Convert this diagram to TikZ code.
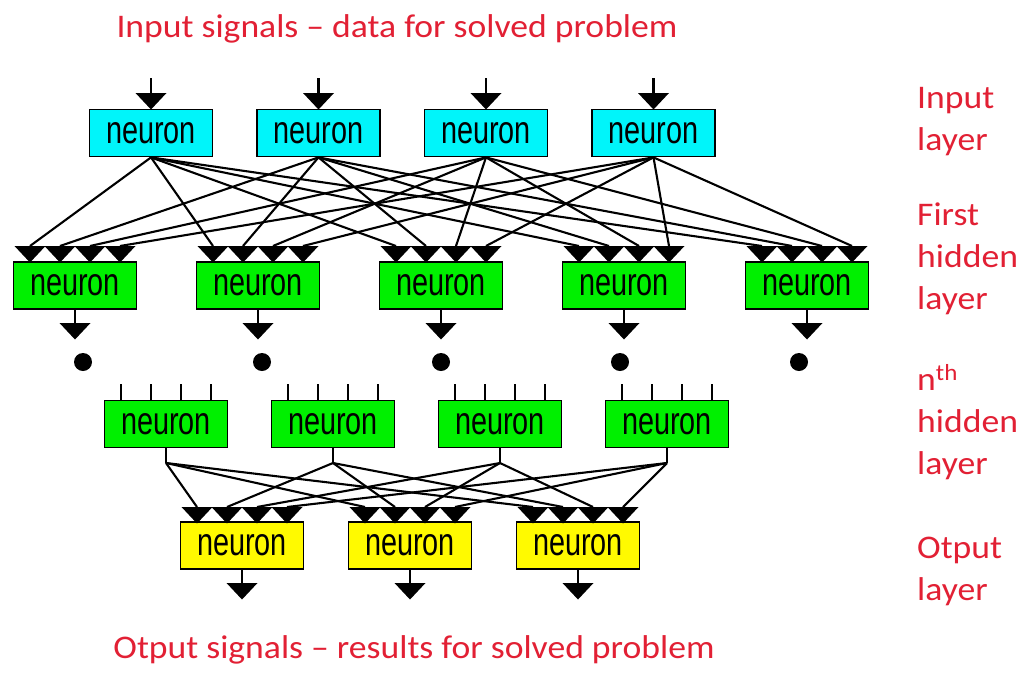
\documentclass[tikz,border=0pt]{standalone}
\usepackage{fontspec}
\newfontfamily\neuronfont[FakeStretch=0.74]{Liberation Sans}
\newfontfamily\labelfont[FakeStretch=1.08]{Carlito}
\definecolor{labelred}{RGB}{226,32,52}
\definecolor{incyan}{RGB}{0,245,250}
\definecolor{hidgreen}{RGB}{0,240,0}
\definecolor{outyellow}{RGB}{255,250,0}
\tikzset{
  neuronbox/.style={draw=black, line width=1.8pt, minimum width=123pt,
    minimum height=47pt, inner sep=0pt,
    font=\neuronfont\fontsize{39}{39}\selectfont},
  inbox/.style={neuronbox, fill=incyan},
  hidbox/.style={neuronbox, fill=hidgreen},
  outbox/.style={neuronbox, fill=outyellow},
  wire/.style={line width=2.1pt, black},
  dotmark/.style={circle, fill=black, inner sep=0pt, minimum size=18pt},
  redlabel/.style={text=labelred, font=\labelfont\fontsize{33}{42}\selectfont,
    inner sep=0pt},
  downtri/.pic={
    \fill[black] (-15.5,0) -- (15.5,0) -- (0,16.5) -- cycle;
    \coordinate (-top) at (0,0);
  }
}
\begin{document}
\begin{tikzpicture}[x=1pt, y=-1pt]
\useasboundingbox[fill=white] (0,0) rectangle (1023,673);

% ---------- input layer ----------
\foreach \i in {1,...,4} {
  \pgfmathsetmacro\cx{151+167.5*(\i-1)}
  \node[inbox] (in\i) at (\cx,133) {neuron};
  \pic (inarr\i) at (\cx,93) {downtri};
  \coordinate (src\i) at (\cx,78);
  \draw[wire] (src\i) -- (inarr\i-top);
}

% ---------- first hidden layer ----------
\foreach \j in {1,...,5} {
  \pgfmathsetmacro\cx{75+183*(\j-1)}
  \pgfmathsetmacro\dx{83+179*(\j-1)}
  \node[hidbox] (h\j) at (\cx,285.5) {neuron};
  \foreach \k in {1,...,4} {
    \pic (h\j-t\k) at ({\cx-75+30*\k},246) {downtri};
  }
  \pic (h\j-out) at (\cx,323) {downtri};
  \draw[wire] (h\j.south) -- (h\j-out-top);
  \node[dotmark] (d\j) at (\dx,362) {};
}

% full connection: input i -> i-th synapse of every hidden neuron
\foreach \i in {1,...,4} {
  \foreach \j in {1,...,5} {
    \draw[wire] (in\i.south) -- (h\j-t\i-top);
  }
}

% ---------- n-th hidden layer ----------
\foreach \j in {1,...,4} {
  \pgfmathsetmacro\cx{166+167*(\j-1)}
  \node[hidbox] (n\j) at (\cx,424) {neuron};
  \foreach \k in {1,...,4} {
    \coordinate (n\j-k\k) at ({\cx-75+30*\k},384);
    \draw[wire] (n\j-k\k) -- (n\j-k\k |- n\j.north);
  }
  \coordinate (n\j-hub) at (\cx,463);
  \draw[wire] (n\j.south) -- (n\j-hub);
}

% ---------- output layer ----------
\foreach \k in {1,...,3} {
  \pgfmathsetmacro\cx{242+168*(\k-1)}
  \node[outbox] (o\k) at (\cx,545.5) {neuron};
  \foreach \j in {1,...,4} {
    \pic (o\k-t\j) at ({\cx-75+30*\j},507) {downtri};
  }
  \pic (o\k-out) at (\cx,583) {downtri};
  \draw[wire] (o\k.south) -- (o\k-out-top);
}

% n-th hidden j -> j-th synapse of every output neuron
\foreach \j in {1,...,4} {
  \foreach \k in {1,...,3} {
    \draw[wire] (n\j-hub) -- (o\k-t\j-top);
  }
}

% ---------- captions ----------
\node[redlabel, anchor=base] (title) at (397,37)
  {Input signals – data for solved problem};
\node[redlabel, anchor=base] (footer) at (414,658)
  {Otput signals – results for solved problem};

% multi-line labels are anchored at the baseline of their last line
\node[redlabel, anchor=base west, align=left] (lin) at (917,150)
  {Input\\layer};
\node[redlabel, anchor=base west, align=left] (lhid) at (917,309)
  {First\\hidden\\layer};
\node[redlabel, anchor=base west, align=left] (lnth) at (917,474)
  {n\textsuperscript{th}\\hidden\\layer};
\node[redlabel, anchor=base west, align=left] (lout) at (917,600)
  {Otput\\layer};
\end{tikzpicture}
\end{document}
